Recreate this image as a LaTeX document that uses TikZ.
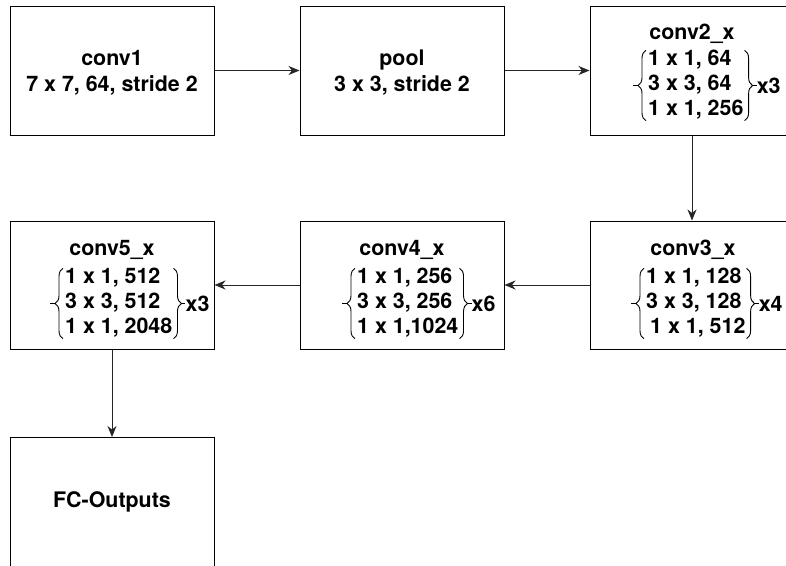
\documentclass[tikz,border=0pt]{standalone}
\usepackage{fontspec}
\setmainfont{TeX Gyre Heros}
\usetikzlibrary{arrows.meta,decorations.pathreplacing}
\begin{document}
\begin{tikzpicture}[x=1pt,y=-1pt,
  blk/.style={draw=black,line width=1pt,minimum width=204pt,minimum height=129pt,inner sep=0pt},
  txt/.style={font=\bfseries\fontsize{21.4}{25}\selectfont,inner sep=0pt,anchor=base},
  rows/.style={font=\bfseries\fontsize{21.4}{25}\selectfont,inner sep=0pt,anchor=base west},
  brc/.style={decorate,decoration={brace,amplitude=8pt},line width=0.9pt},
  stub/.style={line width=0.9pt},
  arr/.style={-{Stealth[length=11pt,width=9pt,inset=3.5pt]},line width=1pt,draw=black!85}]
\useasboundingbox (0,0) rectangle (786,565);
\clip (0,0) rectangle (786,565);
\fill[white] (0,0) rectangle (786,565);
% boxes
\node[blk] (c1) at (112,70.5) {};
\node[blk] (pl) at (402,70.5) {};
\node[blk] (c2) at (692,70.5) {};
\node[blk,minimum height=128pt] (c3) at (692,285) {};
\node[blk,minimum height=128pt] (c4) at (402,285) {};
\node[blk,minimum height=128pt] (c5) at (112,285) {};
\node[blk] (fc) at (112,502) {};
% texts
\node[txt] (c1a) at (112,65) {conv1};
\node[txt] (c1b) at (112,91.5) {7 x 7, 64, stride 2};
\node[txt] (pla) at (402,65) {pool};
\node[txt] (plb) at (402,91.5) {3 x 3, stride 2};
\node[txt] (c2t) at (692,39.5) {conv2\_x};
\node[rows] (c2r) at (648,65) {\begin{tabular}[t]{@{}l@{}}1 x 1, 64\\3 x 3, 64\\1 x 1, 256\end{tabular}};
\node[txt] (c3t) at (693,255) {conv3\_x};
\node[rows] (c3r) at (646,283) {\begin{tabular}[t]{@{}l@{}}1 x 1, 128\\3 x 3, 128\\\hspace{4pt}1 x 1, 512\end{tabular}};
\node[txt] (c4t) at (402,255) {conv4\_x};
\node[rows] (c4r) at (357,283) {\begin{tabular}[t]{@{}l@{}}1 x 1, 256\\3 x 3, 256\\1 x 1,1024\end{tabular}};
\node[txt] (c5t) at (112,255) {conv5\_x};
\node[rows] (c5r) at (65,283) {\begin{tabular}[t]{@{}l@{}}1 x 1, 512\\3 x 3, 512\\1 x 1, 2048\end{tabular}};
\node[txt] (fct) at (112,507) {FC-Outputs};
% braces
\foreach \r/\lab/\nm in {c2r/x3/c2x, c3r/x4/c3x, c4r/x6/c4x, c5r/x3/c5x}{
  \draw[brc] ([xshift=-2pt,yshift=2pt]\r.south west) -- ([xshift=-2pt,yshift=-3pt]\r.north west);
  \draw[brc] ([xshift=1pt,yshift=-3pt]\r.north east) -- ([xshift=1pt,yshift=2pt]\r.south east);
  \draw[stub] ([xshift=-10pt,yshift=-0.5pt]\r.west) -- ++(-5pt,0);
  \draw[stub] ([xshift=9pt,yshift=-0.5pt]\r.east) -- ++(4pt,0);
  \node[txt,anchor=west] (\nm) at ([xshift=13pt,yshift=-0.5pt]\r.east) {\lab};
}
% arrows
\draw[arr] (c1.east) -- (pl.west);
\draw[arr] (pl.east) -- (c2.west);
\draw[arr] (c2.south) -- (c3.north);
\draw[arr] (c3.west) -- (c4.east);
\draw[arr] (c4.west) -- (c5.east);
\draw[arr] (c5.south) -- (fc.north);
\end{tikzpicture}
\end{document}
